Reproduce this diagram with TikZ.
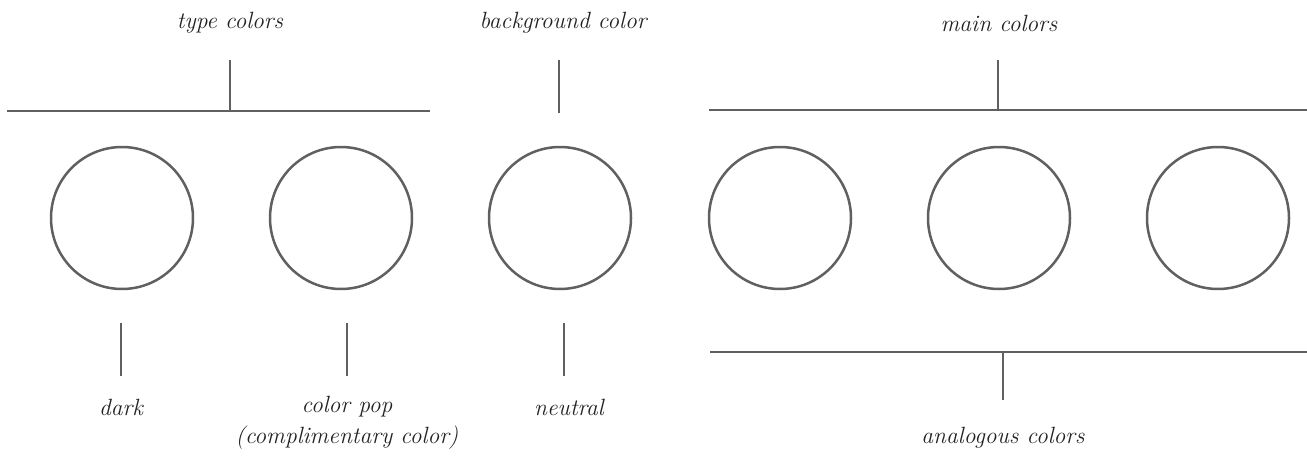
\documentclass[tikz,border=0pt]{standalone}
\definecolor{linegray}{HTML}{606060}
\definecolor{textgray}{HTML}{222222}
\begin{document}
\begin{tikzpicture}[x=1pt,y=-1pt,
  ring/.style={circle,draw=linegray,line width=2.5pt,minimum size=142pt,inner sep=0pt},
  ln/.style={draw=linegray,line width=2.5pt},
  lbl/.style={text=textgray,font=\fontsize{23.5}{31}\selectfont\itshape,inner sep=0pt,align=center}]
\useasboundingbox (0,0) rectangle (1307,460);
% circles
\node[ring] (c1) at (122,218) {};
\node[ring] (c2) at (341,218) {};
\node[ring] (c3) at (560,218) {};
\node[ring] (c4) at (780,218) {};
\node[ring] (c5) at (999,218) {};
\node[ring] (c6) at (1218,218) {};
% top labels
\node[lbl] (ttype) at (230,23) {type colors};
\node[lbl] (tbg) at (563,23) {background color};
\node[lbl] (tmain) at (999,23) {main colors};
% bottom labels
\node[lbl] (tdark) at (121,407) {dark};
\node[lbl,anchor=north] (tpop) at (347,396) {color pop\\(complimentary color)};
\node[lbl] (tneu) at (569,407) {neutral};
\node[lbl] (tana) at (1003,438) {analogous colors};
% top brackets
\coordinate (l1a) at (7,111);
\coordinate (l1b) at (430,111);
\coordinate (v1a) at (230,60);
\coordinate (v1b) at (230,111);
\draw[ln] (l1a) -- (l1b);
\draw[ln] (v1a) -- (v1b);
\coordinate (vbga) at (559,60);
\coordinate (vbgb) at (559,113);
\draw[ln] (vbga) -- (vbgb);
\coordinate (l2a) at (709,110);
\coordinate (l2b) at (1307,110);
\coordinate (v2a) at (998,60);
\coordinate (v2b) at (998,110);
\draw[ln] (l2a) -- (l2b);
\draw[ln] (v2a) -- (v2b);
% bottom ticks
\coordinate (d1a) at (121,323); \coordinate (d1b) at (121,376);
\coordinate (d2a) at (347,323); \coordinate (d2b) at (347,376);
\coordinate (d3a) at (564,323); \coordinate (d3b) at (564,376);
\draw[ln] (d1a) -- (d1b);
\draw[ln] (d2a) -- (d2b);
\draw[ln] (d3a) -- (d3b);
\coordinate (l3a) at (710,352);
\coordinate (l3b) at (1307,352);
\coordinate (v3a) at (1003,352);
\coordinate (v3b) at (1003,400);
\draw[ln] (l3a) -- (l3b);
\draw[ln] (v3a) -- (v3b);
\end{tikzpicture}
\end{document}
